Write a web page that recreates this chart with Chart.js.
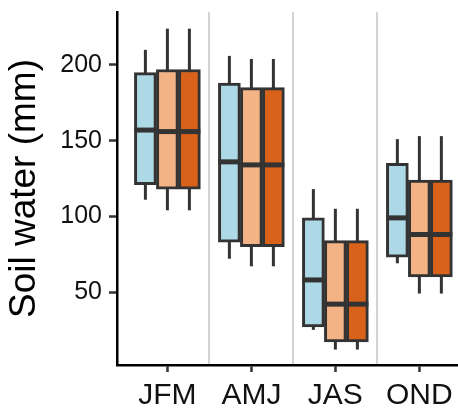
<!DOCTYPE html>
<html>
<head>
<meta charset="utf-8">
<script src="https://cdn.jsdelivr.net/npm/chart.js@4"></script>
<style>
  body { margin: 0; background: #fff; }
</style>
</head>
<body>
<canvas id="soilChart" width="458" height="408"></canvas>
<script>
const categories = ['JFM', 'AMJ', 'JAS', 'OND'];
const seriesNames = ['Baseline', 'Scenario A', 'Scenario B'];

// [min, q1, median, q3, max] for each season
const baselineStats = [
    [111, 121, 157, 195, 210],
    [72, 83, 136, 188, 206],
    [25, 27, 58, 99, 118],
    [69, 73, 99, 135, 151]
];
const scenarioAStats = [
    [104, 118, 156, 197, 224],
    [67, 80, 134, 185, 204],
    [12, 17, 42, 84, 105],
    [49, 60, 88, 124, 153]
];
const scenarioBStats = [
    [104, 118, 156, 197, 224],
    [67, 80, 134, 185, 204],
    [12, 17, 42, 84, 105],
    [49, 60, 88, 124, 153]
];

const yTicks = [50, 100, 150, 200];
const seriesColors = ['#add8e6', '#f4b384', '#d9621a'];
const allStats = [baselineStats, scenarioAStats, scenarioBStats];

const fontFamily = '"Liberation Sans", Arial, Helvetica, sans-serif';

const boxWhiskers = {
    id: 'boxWhiskers',
    beforeDatasetsDraw(chart) {
        const ctx = chart.ctx;
        const y = chart.scales.y;
        ctx.save();
        ctx.strokeStyle = '#333333';
        ctx.lineWidth = 3;
        allStats.forEach((stats, i) => {
            chart.getDatasetMeta(i).data.forEach((bar, j) => {
                const s = stats[j];
                ctx.beginPath();
                ctx.moveTo(bar.x, y.getPixelForValue(s[0]));
                ctx.lineTo(bar.x, y.getPixelForValue(s[4]));
                ctx.stroke();
            });
        });
        ctx.restore();
    },
    afterDatasetsDraw(chart) {
        const ctx = chart.ctx;
        const y = chart.scales.y;
        ctx.save();
        ctx.strokeStyle = '#333333';
        ctx.lineWidth = 5;
        allStats.forEach((stats, i) => {
            chart.getDatasetMeta(i).data.forEach((bar, j) => {
                const py = y.getPixelForValue(stats[j][2]);
                ctx.beginPath();
                ctx.moveTo(bar.x - bar.width / 2, py);
                ctx.lineTo(bar.x + bar.width / 2, py);
                ctx.stroke();
            });
        });
        ctx.restore();
    }
};

const ctx = document.getElementById('soilChart').getContext('2d');
new Chart(ctx, {
    type: 'bar',
    data: {
        datasets: allStats.map((stats, i) => ({
            label: seriesNames[i],
            xAxisID: 'x',
            data: stats.map((s, j) => ({ x: j + 1, y: [s[1], s[3]] })),
            backgroundColor: seriesColors[i],
            borderColor: '#333333',
            borderWidth: 3,
            borderSkipped: false,
            barThickness: 22,
        })),
    },
    options: {
        responsive: false,
        animation: false,
        devicePixelRatio: 1,
        layout: { padding: { top: 12, left: 0, right: 0, bottom: 0 } },
        plugins: {
            legend: { display: false },
            tooltip: { enabled: false },
        },
        scales: {
            x: {
                type: 'linear',
                position: 'bottom',
                min: 0.4,
                max: 4.46,
                offset: false,
                afterBuildTicks: scale => {
                    scale.ticks = categories.map((c, i) => ({ value: i + 1 }));
                },
                afterFit: scale => {
                    scale.height = 43;
                    scale.paddingLeft = 0;
                    scale.paddingRight = 0;
                },
                ticks: {
                    autoSkip: false,
                    maxRotation: 0,
                    padding: 6,
                    color: '#111111',
                    font: { family: fontFamily, size: 30 },
                    callback: value => categories[value - 1],
                },
                grid: {
                    offset: false,
                    drawOnChartArea: false,
                    tickLength: 7,
                    tickWidth: 2.5,
                    tickColor: '#333333',
                },
                border: { color: '#000000', width: 2.5 },
            },
            x2: {
                type: 'linear',
                axis: 'x',
                position: 'bottom',
                min: 0.4,
                max: 4.46,
                offset: false,
                afterBuildTicks: scale => {
                    scale.ticks = [1.5, 2.5, 3.5].map(v => ({ value: v }));
                },
                afterFit: scale => { scale.height = 0; },
                ticks: { display: false },
                grid: {
                    offset: false,
                    drawTicks: false,
                    color: '#d3d3d3',
                    lineWidth: 2,
                },
                border: { display: false },
            },
            y: {
                min: 1.8,
                max: 235,
                afterBuildTicks: scale => {
                    scale.ticks = yTicks.map(v => ({ value: v }));
                },
                afterFit: scale => {
                    scale.width = 117;
                    scale.paddingTop = 0;
                    scale.paddingBottom = 0;
                },
                ticks: {
                    padding: 7,
                    color: '#111111',
                    font: { family: fontFamily, size: 25 },
                },
                grid: {
                    drawOnChartArea: false,
                    tickLength: 8,
                    tickWidth: 2.5,
                    tickColor: '#333333',
                },
                border: { color: '#000000', width: 2.5 },
                title: {
                    display: true,
                    text: 'Soil water (mm)',
                    color: '#000000',
                    font: { family: fontFamily, size: 37 },
                    padding: { top: 3, bottom: 0 },
                },
            },
        },
    },
    plugins: [boxWhiskers],
});
</script>
</body>
</html>
